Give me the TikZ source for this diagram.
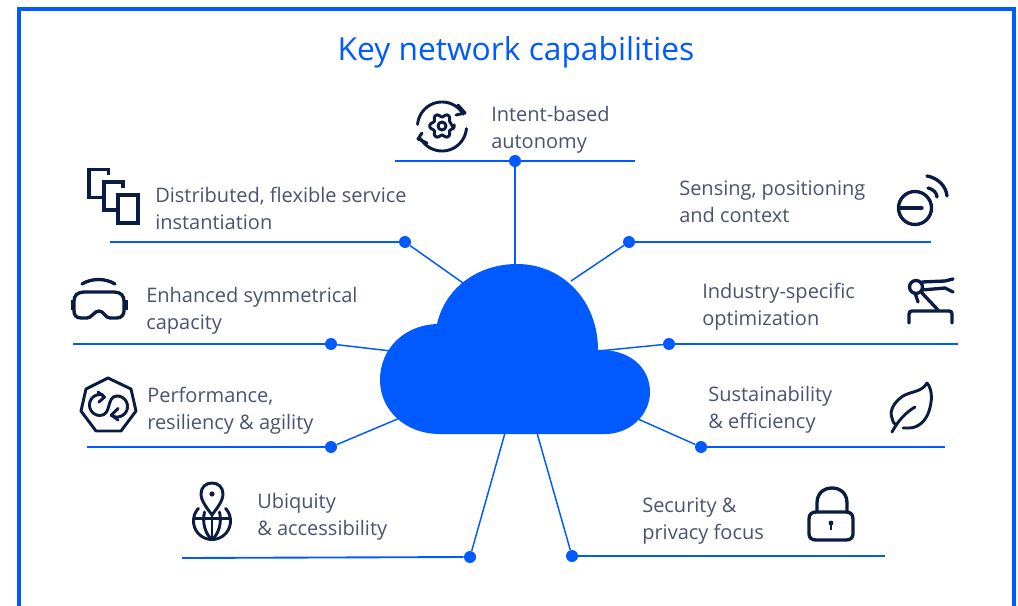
\documentclass[tikz,border=0pt]{standalone}
\usepackage{fontspec}
\setmainfont{Open Sans}
\definecolor{nblue}{HTML}{005AFF}
\definecolor{navy}{HTML}{0B1C44}
\definecolor{txt}{HTML}{4A5470}
\tikzset{
  link/.style={draw=nblue,line width=1.1pt},
  rule/.style={draw=nblue,line width=1.4pt},
  dotnode/.style={circle,fill=nblue,inner sep=0pt,minimum size=9pt},
  lab/.style={anchor=north west,inner sep=0pt,yshift=14pt,align=left,text=txt,font=\fontsize{15}{20.25}\selectfont},
  icon/.style={draw=navy,line width=2.5pt,line cap=round,line join=round},
  iconthin/.style={draw=navy,line width=2.2pt,line cap=round,line join=round},
}
\newcommand{\fs}{\rule{0pt}{14pt}}
\begin{document}
\begin{tikzpicture}[x=0.75pt,y=-0.75pt]
\useasboundingbox[fill=white] (0,0) rectangle (1018,606);
% frame
\draw[draw=nblue,line width=2.4pt] (19,606) -- (19,9) -- (1014,9) -- (1014,606);
\node[text=nblue,font=\fontsize{23.8}{28}\selectfont,inner sep=0pt] (title) at (516,52) {Key network capabilities};
% cloud
\fill[nblue] (440,434) .. controls (405,434) and (380,410) .. (380,380)
  .. controls (380,348) and (405,325) .. (437,324)
  .. controls (445,288) and (478,264) .. (517,264)
  .. controls (562,264) and (598,300) .. (598,350)
  .. controls (630,349) and (650,368) .. (650,392)
  .. controls (650,415) and (630,434) .. (605,434) -- cycle;
% cloud anchor points
\coordinate (c1) at (515,265);
\coordinate (c2) at (463,283);
\coordinate (c3) at (391,351);
\coordinate (c4) at (400,418);
\coordinate (c5) at (505,433);
\coordinate (c6) at (571,281);
\coordinate (c7) at (598,351);
\coordinate (c8) at (638,419);
\coordinate (c9) at (537,433);
% dots
\node[dotnode] (d1) at (515,161) {};
\node[dotnode] (d2) at (405,242) {};
\node[dotnode] (d3) at (331,344) {};
\node[dotnode] (d4) at (331,447) {};
\node[dotnode] (d5) at (470,557) {};
\node[dotnode] (d6) at (629,242) {};
\node[dotnode] (d7) at (669,344) {};
\node[dotnode] (d8) at (701,447) {};
\node[dotnode] (d9) at (572,556) {};
% rule ends
\coordinate (r1a) at (395,161); \coordinate (r1b) at (635,161);
\coordinate (r2) at (110,242);
\coordinate (r3) at (73,344);
\coordinate (r4) at (87,447);
\coordinate (r5) at (182,558);
\coordinate (r6) at (931,242);
\coordinate (r7) at (958,344);
\coordinate (r8) at (945,447);
\coordinate (r9) at (885,556);
\draw[rule] (r1a) -- (r1b);
\foreach \r/\d in {r2/d2,r3/d3,r4/d4,r5/d5,r6/d6,r7/d7,r8/d8,r9/d9} \draw[rule] (\r) -- (\d);
\foreach \n in {1,...,9} \draw[link] (d\n) -- (c\n);
% labels
\node[lab] (t1) at (491,121) {\fs Intent-based\\autonomy};
\node[lab] (t2) at (155,202) {\fs Distributed, flexible service\\instantiation};
\node[lab] (t3) at (146,302) {\fs Enhanced symmetrical\\capacity};
\node[lab] (t4) at (147,402) {\fs Performance,\\resiliency \& agility};
\node[lab] (t5) at (257,508) {\fs Ubiquity\\\& accessibility};
\node[lab] (t6) at (679,195) {\fs Sensing, positioning\\and context};
\node[lab] (t7) at (702,298) {\fs Industry-specific\\optimization};
\node[lab] (t8) at (708,401) {\fs Sustainability\\\& efficiency};
\node[lab] (t9) at (642,512) {\fs Security \&\\privacy focus};
% icon: gear cycle
\draw[iconthin] plot[domain=185:330,samples=40] ({442+24.5*cos(\x)},{126.5+24.5*sin(\x)});
\draw[iconthin] plot[domain=5:150,samples=40] ({442+24.5*cos(\x)},{126.5+24.5*sin(\x)});
\draw[iconthin] (458,105) -- (465,113) -- (456,115);
\draw[iconthin] (422,133) -- (418,139) -- (427,143);
\draw[iconthin,rounded corners=1.2pt] ({442+12.5*cos(13)},{126+12.5*sin(13)})
  \foreach \a in {0,60,...,300} {
     -- ({442+12.5*cos(\a-13)},{126+12.5*sin(\a-13)})
     -- ({442+12.5*cos(\a+13)},{126+12.5*sin(\a+13)})
     -- ({442+9*cos(\a+20)},{126+9*sin(\a+20)})
     -- ({442+9*cos(\a+40)},{126+9*sin(\a+40)})
  } -- cycle;
\draw[iconthin] (442,126) circle[radius=4];
% icon: pages
\draw[icon,line cap=butt,line join=miter] (108.5,175) -- (108.5,169.5) -- (89,169.5) -- (89,197.5) -- (104,197.5);
\draw[icon,line cap=butt,line join=miter] (123,188) -- (123,182) -- (104,182) -- (104,210) -- (118,210);
\draw[icon,line join=miter] (118,195) rectangle (138,223);
% icon: goggles
\draw[icon] (82,284) .. controls (92,278) and (105,278) .. (115,284);
\draw[icon] (84,292) -- (114,292) .. controls (121,292) and (124,296) .. (124,301)
  -- (124,311) .. controls (124,315) and (121,318) .. (117,318)
  -- (110,318) .. controls (105,318) and (104,311) .. (99,311)
  .. controls (94,311) and (92,318) .. (87,318)
  -- (81,318) .. controls (76,318) and (74,315) .. (74,311)
  -- (74,301) .. controls (74,296) and (77,292) .. (84,292) -- cycle;
\draw[icon,line width=3pt,line cap=butt] (72.5,300) -- (72.5,310);
\draw[icon,line width=3pt,line cap=butt] (125.5,300) -- (125.5,310);
% icon: heptagon
\draw[iconthin] (108,378) -- (131,389) -- (136,411) -- (121,431) -- (96,431) -- (81,411) -- (86,389) -- cycle;
\draw[iconthin] plot[domain=-75:-270,samples=40] ({100+10.5*cos(\x)},{405+10.5*sin(\x)})
  .. controls (112,415.5) and (106,396) .. (117,396);
\draw[iconthin] plot[domain=-90:125,samples=40] ({117+10.5*cos(\x)},{406.5+10.5*sin(\x)});
\draw[iconthin] (98,392) -- (104.5,397) -- (99,402);
\draw[iconthin] (118,408.5) -- (111.5,415) -- (118,420);
% icon: pin and globe
\draw[iconthin] (212,515) .. controls (207,508) and (201,501) .. (201,494)
  .. controls (201,487) and (206,483) .. (212,483)
  .. controls (218,483) and (223,487) .. (223,494)
  .. controls (223,501) and (217,508) .. (212,515) -- cycle;
\fill[navy] (212,494) circle[radius=2.6];
\draw[iconthin] plot[domain=-137:-403,samples=50] ({212+18.5*cos(\x)},{521+18.5*sin(\x)});
\draw[iconthin] (194,518.5) -- (230,518.5);
\draw[iconthin] (204.5,512) .. controls (202,522) and (205,534) .. (212,539.5)
  .. controls (219,534) and (222,522) .. (219.5,512);
\draw[iconthin] (212,515) -- (212,539.5);
% icon: sensing
\draw[icon] (915,208) circle[radius=16.5];
\draw[icon] (900,208) -- (922,208);
\draw[icon] (928,188) .. controls (933,189) and (937,193) .. (937,197);
\draw[icon] (927,176) .. controls (938,178) and (946,186) .. (947,196);
% icon: robot
\draw[icon] (916,287) circle[radius=6.5];
\draw[icon] (922,282) -- (945,281) -- (953,279);
\draw[icon] (922,290) -- (945,288) -- (953,292);
\draw[icon] (922,293) -- (938,310);
\draw[icon] (915,293) -- (918,302);
\draw[icon] (909,323) -- (909,314) .. controls (909,312) and (910,311) .. (912,311) -- (949,311) .. controls (951,311) and (952,312) .. (952,314) -- (952,323);
% icon: leaf
\draw[iconthin] (927,383) .. controls (922,392) and (912,391) .. (903,396)
  .. controls (894,402) and (889,411) .. (892,418)
  .. controls (893,422) and (894,424) .. (896,425);
\draw[iconthin] (927,383) .. controls (933,390) and (932,402) .. (929,411)
  .. controls (926,421) and (918,428) .. (909,428)
  .. controls (906,428) and (904,428) .. (903,428);
\draw[iconthin] (892,432) .. controls (898,421) and (905,413) .. (915,407);
% icon: lock
\draw[icon] (809,519) .. controls (809,514) and (812,512) .. (816,512) -- (846,512) .. controls (850,512) and (853,514) .. (853,519) -- (853,534) .. controls (853,538) and (850,540) .. (846,540) -- (816,540) .. controls (812,540) and (809,538) .. (809,534) -- cycle;
\draw[icon] (817,512) -- (817,503) .. controls (817,494) and (823,488) .. (832,488) .. controls (841,488) and (847,494) .. (847,503) -- (847,512);
\fill[navy] (831,523) circle[radius=2.4];
\draw[navy,line width=1.6pt] (831,523) -- (831,530);
\end{tikzpicture}
\end{document}
